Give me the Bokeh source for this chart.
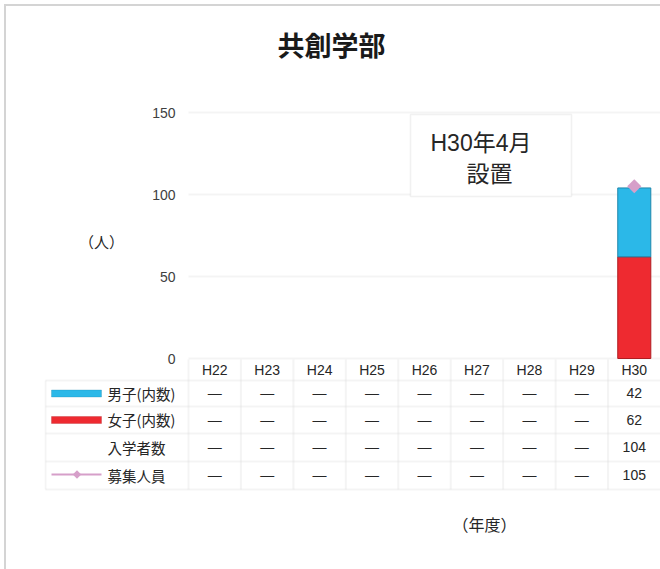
import numpy as np
from bokeh.plotting import figure
from bokeh.layouts import column
from bokeh.models import (Range1d, FactorRange, FixedTicker, Label, BoxAnnotation,
                          ColumnDataSource)
from bokeh.core.properties import value
from bokeh.embed import file_html
from bokeh.resources import INLINE

# ---------------- data ----------------
title_text = "共創学部"
years = ["H22", "H23", "H24", "H25", "H26", "H27", "H28", "H29", "H30"]
male = [None, None, None, None, None, None, None, None, 42]
female = [None, None, None, None, None, None, None, None, 62]
enrolled = [None, None, None, None, None, None, None, None, 104]
quota = [None, None, None, None, None, None, None, None, 105]
row_labels = ["男子(内数)", "女子(内数)", "入学者数", "募集人員"]
y_ticks = [0, 50, 100, 150]
note_lines = ["H30年4月", "設置"]
y_unit = "（人）"
x_unit = "（年度）"

# ---------------- styles / geometry (page pixels) ----------------
BLUE, BLUE_D = "#2bb8e8", "#1f86ab"
RED, RED_D = "#ee2a30", "#b01c20"
PINK = "#d69fc9"
GRID = "#d9d9d9"
TXT = "#262626"
LAT_S = "Liberation Sans"
CJK_S = "Noto Sans CJK JP"
MIX_S = "Liberation Sans, Noto Sans CJK JP"
LAT = value(LAT_S)
MIX = value(MIX_S)

W, H = 660, 569
FL = 44                      # frame left (page x) = table left edge
PX0 = 188                    # plot area left (page x)
Y_ZERO = 358                 # page y of value 0
PPU = (Y_ZERO - 112) / 150.0 # pixels per unit (150 sits at page y 112)
col_w = (W - PX0) / len(years)
lab_units = (PX0 - FL) / col_w

def sx(page_x):
    return page_x - FL       # screen units relative to frame left

LAB_F = ("項目", "項目")
xs = [("年度", y) for y in years]
x_range = FactorRange(factors=[LAB_F] + xs, range_padding=0,
                      factor_padding=0, group_padding=lab_units - 1)

p = figure(width=W, height=H, x_range=x_range,
           y_range=Range1d(-(H - Y_ZERO) / PPU, Y_ZERO / PPU),
           x_axis_location=None, output_backend="svg", toolbar_location=None,
           min_border_left=FL, min_border_right=0, min_border_top=0, min_border_bottom=0)
p.extra_y_ranges = {"pg": Range1d(H, 0)}
p.background_fill_alpha = 0
p.border_fill_alpha = 0
p.outline_line_color = None
p.grid.visible = False

# y axis: labels placed just left of the plot area
ya = p.yaxis[0]
ya.ticker = FixedTicker(ticks=y_ticks)
ya.bounds = (0, 150)
ya.axis_line_color = None
ya.major_tick_line_color = None
ya.minor_tick_line_color = None
ya.major_tick_in = 0
ya.major_tick_out = 0
ya.major_label_standoff = -(175 - FL)
ya.major_label_text_font = LAT_S
ya.major_label_text_font_size = "14px"
ya.major_label_text_color = "#404040"

def box(l, r, t, b, yr="default", **kw):
    p.add_layout(BoxAnnotation(left=sx(l), right=sx(r), top=t, bottom=b,
                               left_units="screen", right_units="screen",
                               y_range_name=yr, **kw))

def label(xp, yp, text, font=CJK_S, size="15px", align="left", **kw):
    p.add_layout(Label(x=sx(xp), y=yp, x_units="screen", y_range_name="pg", text=text,
                       text_align=align, text_baseline="middle", text_font=font,
                       text_font_size=size, text_color=kw.pop("color", TXT), **kw))

# horizontal grid lines over the plot area
for t in y_ticks:
    box(PX0, W + 20, t, t, fill_color=None, line_color=GRID, line_width=2, level="underlay")

def arr(v):
    return np.array([np.nan if x is None else x for x in v], dtype=float)

f = arr(female)
m = arr(male)
src = ColumnDataSource(dict(x=xs, f_top=f, m_bot=f, m_top=f + m, q=arr(quota)))

p.vbar(x="x", bottom=0, top="f_top", width=0.63, source=src,
       fill_color=RED, line_color=RED_D, line_width=1)
p.vbar(x="x", bottom="m_bot", top="m_top", width=0.63, source=src,
       fill_color=BLUE, line_color=BLUE_D, line_width=1)
p.line(x="x", y="q", source=src, line_color=PINK, line_width=2)
p.scatter(x="x", y="q", source=src, marker="square", angle=np.pi / 4, size=10,
          fill_color=PINK, line_color=None)

# ---------------- table ----------------
HDR_TOP, HDR_BOT = 359, 380
row_edges = [380, 406, 433, 461, 489]

def line_box(l, r, t, b):
    box(l, r, t, b, yr="pg", fill_color=None, line_color=GRID, line_width=2, level="underlay")

for yy in row_edges:
    line_box(FL + 1, W + 20, yy, yy)
line_box(FL + 1, FL + 1, row_edges[0], row_edges[-1])
for i in range(len(years)):
    xx = PX0 + i * col_w
    line_box(xx, xx, HDR_TOP, row_edges[-1])

p.text(x=xs, y=[(HDR_TOP + HDR_BOT) / 2] * len(years), text=years,
       y_range_name="pg", text_align="center", text_baseline="middle",
       text_font=LAT, text_font_size="14px", text_color=TXT)

row_series = [male, female, enrolled, quota]
for r, ser in enumerate(row_series):
    yc = (row_edges[r] + row_edges[r + 1]) / 2 - 0.5
    texts = ["—" if v is None else str(v) for v in ser]
    p.text(x=xs, y=[yc] * len(years), text=texts, y_range_name="pg",
           text_align="center", text_baseline="middle",
           text_font=MIX, text_font_size="14px", text_color=TXT)
    label(107, yc, row_labels[r], size="14.5px")

# swatches in the label column
r0 = [(row_edges[i] + row_edges[i + 1]) / 2 for i in range(4)]
box(51, 101, r0[0] - 3.5, r0[0] + 3.5, yr="pg", fill_color=BLUE, fill_alpha=1,
    line_color=BLUE_D, line_width=1)
box(51, 101, r0[1] - 3.5, r0[1] + 3.5, yr="pg", fill_color=RED, fill_alpha=1,
    line_color=RED_D, line_width=1)
box(51, 101, r0[3] - 2.0, r0[3], yr="pg", fill_color=PINK, fill_alpha=1, line_color=None)
lab_center = FL + 0.5 * col_w
p.scatter(x=[LAB_F + ((76.5 - lab_center) / col_w,)], y=[r0[3] - 1.0], y_range_name="pg",
          marker="square", angle=np.pi / 4, size=6, fill_color=PINK, line_color=None)

# ---------------- note box ----------------
box(410, 571, 114, 196, yr="pg", fill_color="white", fill_alpha=1,
    line_color="#cfcfcf", line_width=1.5)
label(430, 142.5, note_lines[0], font=MIX_S, size="23px")
label(466, 171.5, note_lines[1], font=CJK_S, size="23px")

# ---------------- titles / units ----------------
label(331, 44, title_text, size="27px", align="center", text_font_style="bold", color="#1a1a1a")
label(101, 241, y_unit, align="center")
label(484, 523, x_unit, size="16px", align="center")

root = column(p, spacing=0, styles={
    "background": "linear-gradient(#d4d4d4, #d4d4d4) 4px 4px / 2px 100% no-repeat, "
                  "linear-gradient(#d4d4d4, #d4d4d4) 4px 4px / 100% 2px no-repeat, #ffffff"})

open("out.html", "w").write(file_html(root, INLINE))
